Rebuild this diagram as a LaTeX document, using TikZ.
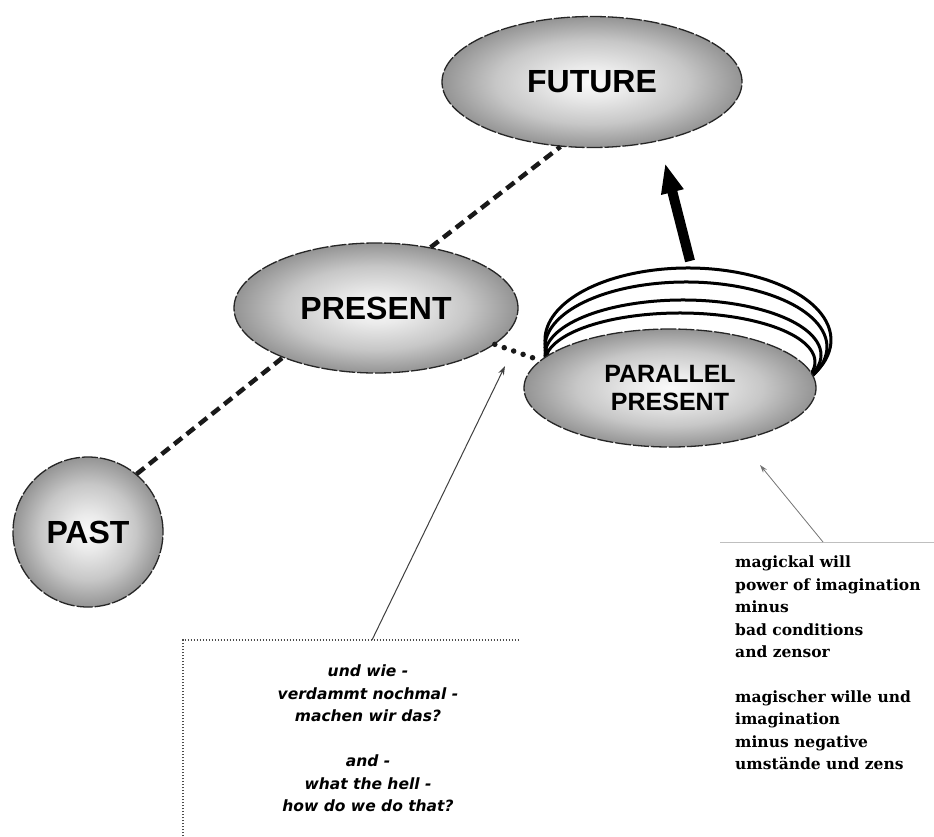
\documentclass[tikz,border=0pt]{standalone}
\usepackage{fontspec}
\setmainfont{Liberation Sans}
\newfontfamily\boxfont{DejaVu Sans}
\newfontfamily\notefont{DejaVu Serif}
\usetikzlibrary{shapes.geometric, arrows.meta}
\pgfdeclareradialshading{ballshade}{\pgfpoint{0bp}{0bp}}{color(0bp)=(black!2); color(6bp)=(black!8); color(16bp)=(black!22); color(25bp)=(black!42); color(50bp)=(black!42)}
\begin{document}
\begin{tikzpicture}[x=1pt,y=1pt,
  bubble/.style={ellipse, draw=black!85, line width=1.3pt, dash pattern=on 16pt off 2pt,
    shading=ballshade, inner sep=0pt,
    font=\fontsize{32}{34}\selectfont\bfseries},
  dashconn/.style={line width=4.5pt, dash pattern=on 10pt off 6pt, black!90},
  dotconn/.style={line width=5.5pt, dash pattern=on 0pt off 10pt, line cap=round, black!90},
  stackarc/.style={line width=3pt, black},
  thinarrow/.style={line width=1pt, black!75, -{Stealth[length=9pt,width=6pt]}},
  lightarrow/.style={line width=0.8pt, black!55, -{Stealth[length=8pt,width=5pt]}},
  boxborder/.style={line width=1.2pt, black!70, dash pattern=on 1.5pt off 1.5pt},
  bigarrow/.style={line width=10pt, black, -{Triangle[width=21pt,length=30pt]}},
  boxtxt/.style={align=center, inner sep=0pt, font=\boxfont\bfseries\itshape\fontsize{15.5}{22.5}\selectfont},
  notetxt/.style={align=left, inner sep=0pt, font=\notefont\bfseries\fontsize{15.5}{22.4}\selectfont}
]
\useasboundingbox[fill=white] (0,0) rectangle (934,-836);

% stacked arcs behind the parallel present
\draw[stackarc] (688,-340) ++(195:143pt and 72pt) arc[start angle=195, end angle=-40, x radius=143pt, y radius=72pt];
\draw[stackarc] (686,-347) ++(195:141pt and 65pt) arc[start angle=195, end angle=-40, x radius=141pt, y radius=65pt];
\draw[stackarc] (683,-355) ++(198:138pt and 55pt) arc[start angle=198, end angle=-40, x radius=138pt, y radius=55pt];
\draw[stackarc] (680,-362) ++(200:135pt and 49pt) arc[start angle=200, end angle=-40, x radius=135pt, y radius=49pt];

% main bubbles
\node[bubble, minimum width=300pt, minimum height=131pt] (future) at (592,-82) {FUTURE};
\node[bubble, minimum width=284pt, minimum height=130pt] (present) at (376,-308) {PRESENT};
\node[bubble, circle, minimum size=150pt] (past) at (88,-532) {PAST};
\node[bubble, minimum width=292pt, minimum height=118pt, align=center,
  font=\fontsize{25}{28}\selectfont\bfseries] (parallel) at (670,-388) {PARALLEL\\PRESENT};

% connectors
\draw[dashconn] (past.50) -- (present.208);
\draw[dashconn] (present.48) -- (future.244);
\draw[dotconn] (present.343) -- (parallel.168);

\coordinate (bigtail) at (690,-261);
\coordinate (bigtip) at (665,-163);
\draw[bigarrow] (bigtail) -- (bigtip);

% left text box
\node[minimum width=335pt, minimum height=196pt, anchor=north west, inner sep=0pt] (box) at (183,-640) {};
\draw[boxborder] (box.south west) -- (box.north west) -- (box.north east);
\node[boxtxt, anchor=north] (boxtext) at (368,-665) {und wie -\\verdammt nochmal -\\machen wir das?\\[22.5pt]and -\\what the hell -\\how do we do that?};
\coordinate (qstart) at (372,-640);
\coordinate (qend) at (505,-366);
\draw[thinarrow] (qstart) -- (qend);

% right note
\coordinate (notel) at (720,-542);
\coordinate (noter) at (934,-542);
\draw[black!25, line width=0.8pt] (notel) -- (noter);
\node[notetxt, anchor=north west] (note) at (735,-556) {magickal will\\power of imagination\\minus\\bad conditions\\and zensor\\[22.4pt]magischer wille und\\imagination\\minus negative\\umstände und zens};
\coordinate (nstart) at (823,-542);
\coordinate (nend) at (760,-465);
\draw[lightarrow] (nstart) -- (nend);
\end{tikzpicture}
\end{document}
